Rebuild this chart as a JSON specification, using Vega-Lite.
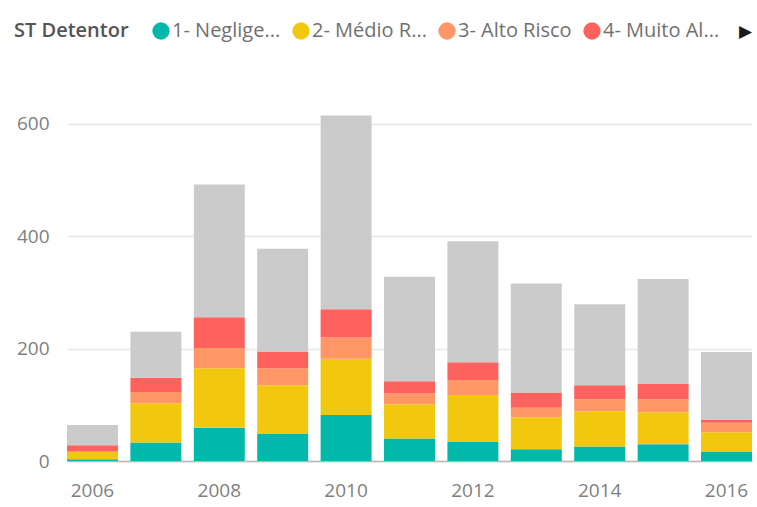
{
  "$schema": "https://vega.github.io/schema/vega-lite/v6.json",
  "autosize": "none",
  "width": 685,
  "height": 382,
  "padding": {"left": 67, "top": 79, "right": 5, "bottom": 46},
  "background": "white",
  "config": {
    "font": "Open Sans",
    "view": {"stroke": null}
  },
  "data": {
    "values": [
      {"year": 2006, "s": "1- Negligenciável", "v": 3},
      {"year": 2006, "s": "2- Médio Risco", "v": 13},
      {"year": 2006, "s": "3- Alto Risco", "v": 2},
      {"year": 2006, "s": "4- Muito Alto Risco", "v": 10},
      {"year": 2006, "s": "5- Sem Classificação", "v": 36},
      {"year": 2007, "s": "1- Negligenciável", "v": 33},
      {"year": 2007, "s": "2- Médio Risco", "v": 70},
      {"year": 2007, "s": "3- Alto Risco", "v": 20},
      {"year": 2007, "s": "4- Muito Alto Risco", "v": 25},
      {"year": 2007, "s": "5- Sem Classificação", "v": 82},
      {"year": 2008, "s": "1- Negligenciável", "v": 59},
      {"year": 2008, "s": "2- Médio Risco", "v": 106},
      {"year": 2008, "s": "3- Alto Risco", "v": 36},
      {"year": 2008, "s": "4- Muito Alto Risco", "v": 55},
      {"year": 2008, "s": "5- Sem Classificação", "v": 236},
      {"year": 2009, "s": "1- Negligenciável", "v": 49},
      {"year": 2009, "s": "2- Médio Risco", "v": 86},
      {"year": 2009, "s": "3- Alto Risco", "v": 30},
      {"year": 2009, "s": "4- Muito Alto Risco", "v": 30},
      {"year": 2009, "s": "5- Sem Classificação", "v": 183},
      {"year": 2010, "s": "1- Negligenciável", "v": 82},
      {"year": 2010, "s": "2- Médio Risco", "v": 100},
      {"year": 2010, "s": "3- Alto Risco", "v": 38},
      {"year": 2010, "s": "4- Muito Alto Risco", "v": 50},
      {"year": 2010, "s": "5- Sem Classificação", "v": 345},
      {"year": 2011, "s": "1- Negligenciável", "v": 40},
      {"year": 2011, "s": "2- Médio Risco", "v": 61},
      {"year": 2011, "s": "3- Alto Risco", "v": 19},
      {"year": 2011, "s": "4- Muito Alto Risco", "v": 22},
      {"year": 2011, "s": "5- Sem Classificação", "v": 186},
      {"year": 2012, "s": "1- Negligenciável", "v": 34},
      {"year": 2012, "s": "2- Médio Risco", "v": 82},
      {"year": 2012, "s": "3- Alto Risco", "v": 28},
      {"year": 2012, "s": "4- Muito Alto Risco", "v": 32},
      {"year": 2012, "s": "5- Sem Classificação", "v": 215},
      {"year": 2013, "s": "1- Negligenciável", "v": 21},
      {"year": 2013, "s": "2- Médio Risco", "v": 57},
      {"year": 2013, "s": "3- Alto Risco", "v": 17},
      {"year": 2013, "s": "4- Muito Alto Risco", "v": 27},
      {"year": 2013, "s": "5- Sem Classificação", "v": 194},
      {"year": 2014, "s": "1- Negligenciável", "v": 26},
      {"year": 2014, "s": "2- Médio Risco", "v": 62},
      {"year": 2014, "s": "3- Alto Risco", "v": 22},
      {"year": 2014, "s": "4- Muito Alto Risco", "v": 25},
      {"year": 2014, "s": "5- Sem Classificação", "v": 144},
      {"year": 2015, "s": "1- Negligenciável", "v": 30},
      {"year": 2015, "s": "2- Médio Risco", "v": 57},
      {"year": 2015, "s": "3- Alto Risco", "v": 23},
      {"year": 2015, "s": "4- Muito Alto Risco", "v": 27},
      {"year": 2015, "s": "5- Sem Classificação", "v": 187},
      {"year": 2016, "s": "1- Negligenciável", "v": 17},
      {"year": 2016, "s": "2- Médio Risco", "v": 34},
      {"year": 2016, "s": "3- Alto Risco", "v": 17},
      {"year": 2016, "s": "4- Muito Alto Risco", "v": 6},
      {"year": 2016, "s": "5- Sem Classificação", "v": 120}
    ]
  },
  "mark": {"type": "bar"},
  "encoding": {
    "x": {
      "field": "year",
      "type": "ordinal",
      "scale": {"paddingInner": 0.196, "paddingOuter": 0},
      "axis": {
        "title": null,
        "labelAngle": 0,
        "labelExpr": "datum.value % 2 == 0 ? datum.label : ''",
        "labelFontSize": 19,
        "labelColor": "#7f7f7f",
        "labelPadding": 20,
        "ticks": false,
        "domainColor": "#b8b8b8",
        "domainWidth": 1.5,
        "grid": false
      }
    },
    "y": {
      "field": "v",
      "type": "quantitative",
      "stack": "zero",
      "scale": {"domain": [0, 680], "nice": false},
      "axis": {
        "title": null,
        "values": [0, 200, 400, 600],
        "labelFontSize": 19,
        "labelColor": "#7f7f7f",
        "labelPadding": 18,
        "ticks": false,
        "domain": false,
        "gridColor": "#e8e8e8",
        "gridWidth": 1.5
      }
    },
    "color": {
      "field": "s",
      "type": "nominal",
      "scale": {
        "domain": ["1- Negligenciável", "2- Médio Risco", "3- Alto Risco", "4- Muito Alto Risco", "5- Sem Classificação"],
        "range": ["#01B8AA", "#F2C80F", "#FE9666", "#FD625E", "#CBCBCB"]
      },
      "legend": {
        "title": "ST Detentor",
        "orient": "none",
        "legendX": -53,
        "legendY": -58,
        "direction": "horizontal",
        "titleOrient": "left",
        "titleFontSize": 20,
        "titleFontWeight": 600,
        "titleColor": "#555555",
        "titlePadding": 22,
        "titleAnchor": "middle",
        "titleBaseline": "middle",
        "labelFontSize": 20,
        "labelColor": "#707070",
        "labelLimit": 400,
        "labelOffset": 1,
        "columnPadding": 10,
        "symbolType": "circle",
        "symbolSize": 300,
        "symbolStrokeWidth": 0,
        "symbolOpacity": 1,
        "labelExpr": "datum.value == '1- Negligenciável' ? '1- Neglige...' : datum.value == '2- Médio Risco' ? '2- Médio R...' : datum.value == '4- Muito Alto Risco' ? '4- Muito Al...' : datum.value == '5- Sem Classificação' ? '▶' : datum.label",
        "encode": {
          "symbols": {"update": {"opacity": {"signal": "datum.value == '5- Sem Classificação' ? 0 : 1"}}},
          "labels": {"update": {
            "fill": {"signal": "datum.value == '5- Sem Classificação' ? '#1a1a1a' : '#707070'"},
            "fontSize": {"signal": "datum.value == '5- Sem Classificação' ? 17 : 20"},
            "dx": {"signal": "datum.value == '5- Sem Classificação' ? -12 : 0"}
          }}
        }
      }
    },
    "order": {"field": "s", "sort": "ascending"}
  }
}
